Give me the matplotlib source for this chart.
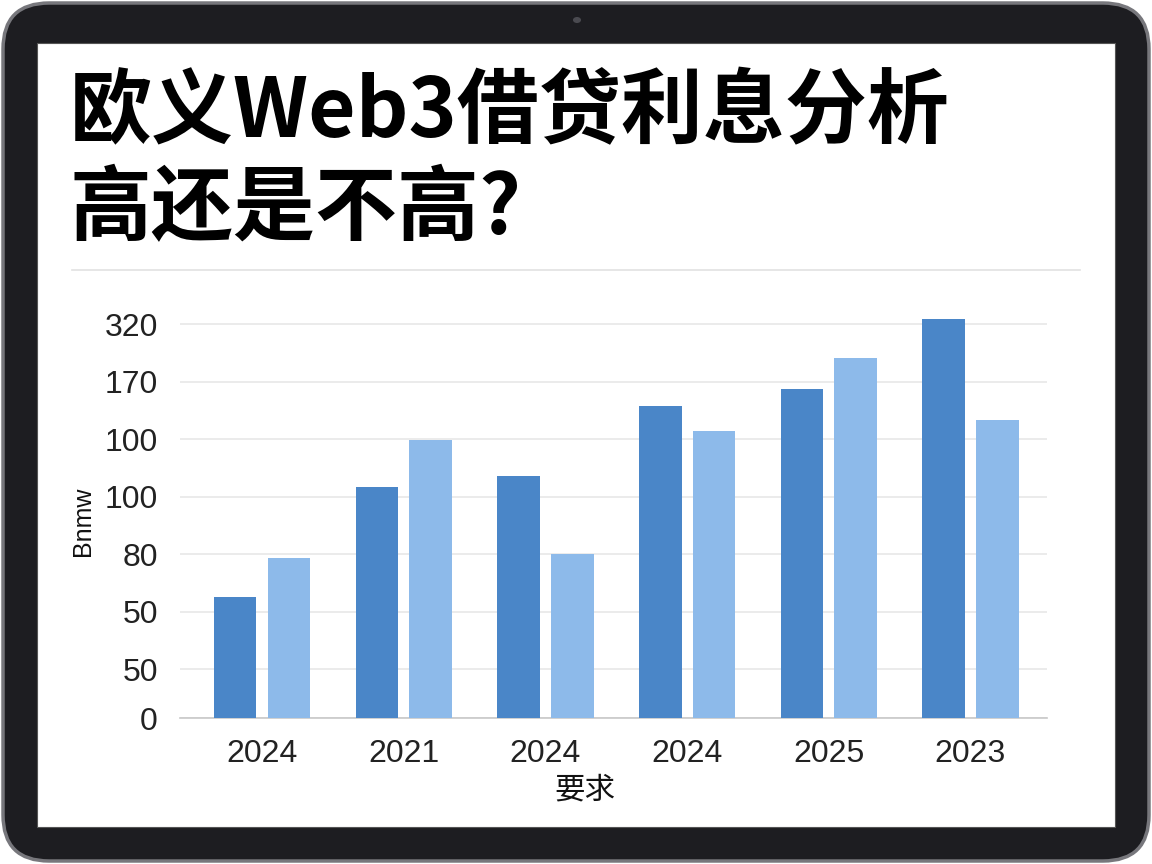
import matplotlib
matplotlib.use('Agg')
import numpy as np
import matplotlib.pyplot as plt
from matplotlib.patches import FancyBboxPatch, Rectangle, Circle
from matplotlib.lines import Line2D

# Data
categories = ['2024', '2021', '2024', '2024', '2025', '2023']
series_dark = [2.10, 4.02, 4.21, 5.43, 5.72, 6.94]
series_light = [2.78, 4.83, 2.85, 4.99, 6.26, 5.18]
ytick_labels = ['0', '50', '50', '80', '100', '100', '170', '320']
ytick_pos = [0, 0.85, 1.85, 2.85, 3.85, 4.85, 5.85, 6.85]

title_lines = ['欧义Web3借贷利息分析', '高还是不高?']
xlabel = '要求'
ylabel = 'Bnmw'

W, H = 1152, 864
fig = plt.figure(figsize=(W / 100, H / 100), dpi=100)
fig.patch.set_facecolor('white')


def fx(px):
    return px / W


def fy(py):
    return 1 - py / H


# tablet frame
frame = FancyBboxPatch((fx(3), fy(861)), fx(1146), 858 / H,
                       boxstyle='round,pad=0,rounding_size=0.04',
                       transform=fig.transFigure, facecolor='#1d1d21',
                       edgecolor='#77777c', linewidth=2.5, zorder=-3,
                       mutation_aspect=W / H)
fig.patches.append(frame)
screen = Rectangle((fx(37), fy(827)), fx(1078), (827 - 43) / H,
                   transform=fig.transFigure, facecolor='white',
                   edgecolor='#555', linewidth=0.8, zorder=-2)
fig.patches.append(screen)
cam = Circle((fx(577), fy(20)), 0.0035, transform=fig.transFigure,
             facecolor='#4a4a50', edgecolor='none', zorder=-2)
fig.patches.append(cam)

cjk = ['Noto Sans CJK SC', 'DejaVu Sans']

# title
fig.text(fx(70), fy(113), title_lines[0], fontsize=59, fontweight='black',
         family=cjk, va='center', ha='left', color='black')
fig.text(fx(70), fy(210), title_lines[1], fontsize=59, fontweight='black',
         family=cjk, va='center', ha='left', color='black')
fig.lines.append(Line2D([fx(72), fx(1080)], [fy(270), fy(270)],
                        transform=fig.transFigure, color='#e2e2e2', lw=1.2,
                        zorder=-1))

# chart
unit = 57.5
ax = fig.add_axes([fx(180), (H - 718) / H, fx(867), 7.1 * unit / H])
ax.set_zorder(2)
ax.set_facecolor('none')
x = np.arange(len(categories))
bw = 0.30
off = 0.19
ax.bar(x - off, series_dark, bw, color='#4a86c8', zorder=3)
ax.bar(x + off, series_light, bw, color='#8dbaea', zorder=3)

ax.set_xlim(-0.58, 5.54)
ax.set_ylim(0, 7.1)
ax.set_yticks(ytick_pos)
ax.set_yticklabels(ytick_labels)
ax.set_xticks(x)
ax.set_xticklabels(categories)
ax.tick_params(axis='both', length=0, labelsize=23, colors='#222222')
ax.tick_params(axis='y', pad=16)
ax.tick_params(axis='x', pad=15)
for lab in ax.get_xticklabels() + ax.get_yticklabels():
    lab.set_family(['Liberation Sans', 'DejaVu Sans'])
ax.grid(axis='y', color='#e8e8e8', lw=1.2, zorder=0)
for s in ['top', 'right', 'left']:
    ax.spines[s].set_visible(False)
ax.spines['bottom'].set_color('#c8c8c8')
ax.spines['bottom'].set_linewidth(1.2)

fig.text(fx(585), fy(790), xlabel, fontsize=22, family=cjk,
         ha='center', va='center', color='#111111')
fig.text(fx(83), fy(521), ylabel, fontsize=18, rotation=90,
         family=['Liberation Sans', 'DejaVu Sans'],
         ha='center', va='center', color='#111111')

fig.savefig('out.png', dpi=100)
